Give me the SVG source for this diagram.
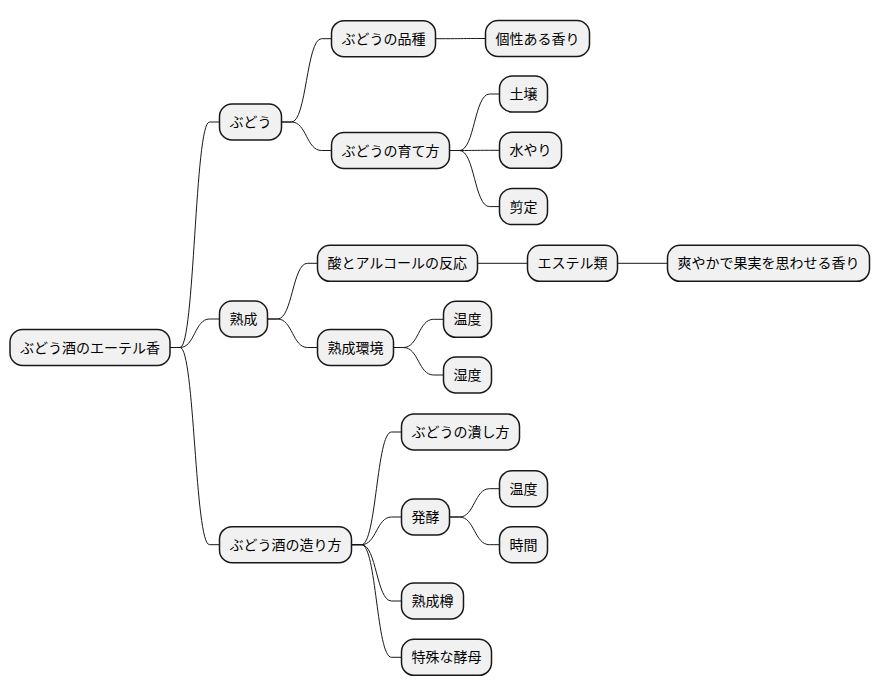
<svg xmlns="http://www.w3.org/2000/svg" width="880" height="696" viewBox="0 0 880 696">
<style>
.n rect{fill:#F1F1F1;stroke:#181818;stroke-width:1.5}
.n text{font-family:"Noto Sans CJK JP","Noto Sans",sans-serif;font-size:14px;fill:#000}
.c path{fill:none;stroke:#181818;stroke-width:1}
</style>
<rect width="880" height="696" fill="#FFFFFF"/>
<g class="c" id="connectors">
<path d="M170,347.5 L180,347.5 C194.75,347.5 194.75,122 209.5,122 L219.5,122"/>
<path d="M170,347.5 L180,347.5 C194.75,347.5 194.75,319 209.5,319 L219.5,319"/>
<path d="M170,347.5 L180,347.5 C194.75,347.5 194.75,544.7 209.5,544.7 L219.5,544.7"/>
<path d="M281.5,122 L291.5,122 C306.5,122 306.5,38.7 321.5,38.7 L331.5,38.7"/>
<path d="M281.5,122 L291.5,122 C306.5,122 306.5,150.5 321.5,150.5 L331.5,150.5"/>
<path d="M435.5,38.7 L445.5,38.7 C460.5,38.7 460.5,38.5 475.5,38.5 L485.5,38.5"/>
<path d="M449.5,150.5 L459.5,150.5 C474.5,150.5 474.5,94 489.5,94 L499.5,94"/>
<path d="M449.5,150.5 L459.5,150.5 C474.5,150.5 474.5,150.3 489.5,150.3 L499.5,150.3"/>
<path d="M449.5,150.5 L459.5,150.5 C474.5,150.5 474.5,206.6 489.5,206.6 L499.5,206.6"/>
<path d="M267.5,319 L277.5,319 C292.5,319 292.5,263.3 307.5,263.3 L317.5,263.3"/>
<path d="M267.5,319 L277.5,319 C292.5,319 292.5,347.5 307.5,347.5 L317.5,347.5"/>
<path d="M477.5,263.3 L527.5,263.3"/>
<path d="M617.5,263.3 L667.5,263.3"/>
<path d="M393.5,347.5 L403.5,347.5 C418.5,347.5 418.5,319.3 433.5,319.3 L443.5,319.3"/>
<path d="M393.5,347.5 L403.5,347.5 C418.5,347.5 418.5,375 433.5,375 L443.5,375"/>
<path d="M351.5,544.7 L361.5,544.7 C376.5,544.7 376.5,432 391.5,432 L401.5,432"/>
<path d="M351.5,544.7 L361.5,544.7 C376.5,544.7 376.5,517 391.5,517 L401.5,517"/>
<path d="M351.5,544.7 L361.5,544.7 C376.5,544.7 376.5,601 391.5,601 L401.5,601"/>
<path d="M351.5,544.7 L361.5,544.7 C376.5,544.7 376.5,657.3 391.5,657.3 L401.5,657.3"/>
<path d="M449.5,517 L459.5,517 C474.5,517 474.5,488.7 489.5,488.7 L499.5,488.7"/>
<path d="M449.5,517 L459.5,517 C474.5,517 474.5,544.7 489.5,544.7 L499.5,544.7"/>
</g>
<g class="n" id="root"><rect x="10" y="329.5" width="160" height="36" rx="12.5"/><text x="20" y="352.5">ぶどう酒のエーテル香</text></g>
<g class="n" id="budou"><rect x="219.5" y="104" width="62" height="36" rx="12.5"/><text x="229.5" y="127">ぶどう</text></g>
<g class="n" id="hinshu"><rect x="331.5" y="20.7" width="104" height="36" rx="12.5"/><text x="341.5" y="43.7">ぶどうの品種</text></g>
<g class="n" id="kosei"><rect x="485.5" y="20.5" width="104" height="36" rx="12.5"/><text x="495.5" y="43.5">個性ある香り</text></g>
<g class="n" id="sodatekata"><rect x="331.5" y="132.5" width="118" height="36" rx="12.5"/><text x="341.5" y="155.5">ぶどうの育て方</text></g>
<g class="n" id="dojou"><rect x="499.5" y="76" width="48" height="36" rx="12.5"/><text x="509.5" y="99">土壌</text></g>
<g class="n" id="mizuyari"><rect x="499.5" y="132.3" width="62" height="36" rx="12.5"/><text x="509.5" y="155.3">水やり</text></g>
<g class="n" id="sentei"><rect x="499.5" y="188.6" width="48" height="36" rx="12.5"/><text x="509.5" y="211.6">剪定</text></g>
<g class="n" id="jukusei"><rect x="219.5" y="301" width="48" height="36" rx="12.5"/><text x="229.5" y="324">熟成</text></g>
<g class="n" id="hannou"><rect x="317.5" y="245.3" width="160" height="36" rx="12.5"/><text x="327.5" y="268.3">酸とアルコールの反応</text></g>
<g class="n" id="ester"><rect x="527.5" y="245.3" width="90" height="36" rx="12.5"/><text x="537.5" y="268.3">エステル類</text></g>
<g class="n" id="sawayaka"><rect x="667.5" y="245.3" width="202" height="36" rx="12.5"/><text x="677.5" y="268.3">爽やかで果実を思わせる香り</text></g>
<g class="n" id="kankyou"><rect x="317.5" y="329.5" width="76" height="36" rx="12.5"/><text x="327.5" y="352.5">熟成環境</text></g>
<g class="n" id="ondo1"><rect x="443.5" y="301.3" width="48" height="36" rx="12.5"/><text x="453.5" y="324.3">温度</text></g>
<g class="n" id="shitsudo"><rect x="443.5" y="357" width="48" height="36" rx="12.5"/><text x="453.5" y="380">湿度</text></g>
<g class="n" id="tsukurikata"><rect x="219.5" y="526.7" width="132" height="36" rx="12.5"/><text x="229.5" y="549.7">ぶどう酒の造り方</text></g>
<g class="n" id="tsubushikata"><rect x="401.5" y="414" width="118" height="36" rx="12.5"/><text x="411.5" y="437">ぶどうの潰し方</text></g>
<g class="n" id="hakkou"><rect x="401.5" y="499" width="48" height="36" rx="12.5"/><text x="411.5" y="522">発酵</text></g>
<g class="n" id="ondo2"><rect x="499.5" y="470.7" width="48" height="36" rx="12.5"/><text x="509.5" y="493.7">温度</text></g>
<g class="n" id="jikan"><rect x="499.5" y="526.7" width="48" height="36" rx="12.5"/><text x="509.5" y="549.7">時間</text></g>
<g class="n" id="taru"><rect x="401.5" y="583" width="62" height="36" rx="12.5"/><text x="411.5" y="606">熟成樽</text></g>
<g class="n" id="koubo"><rect x="401.5" y="639.3" width="90" height="36" rx="12.5"/><text x="411.5" y="662.3">特殊な酵母</text></g>
</svg>
